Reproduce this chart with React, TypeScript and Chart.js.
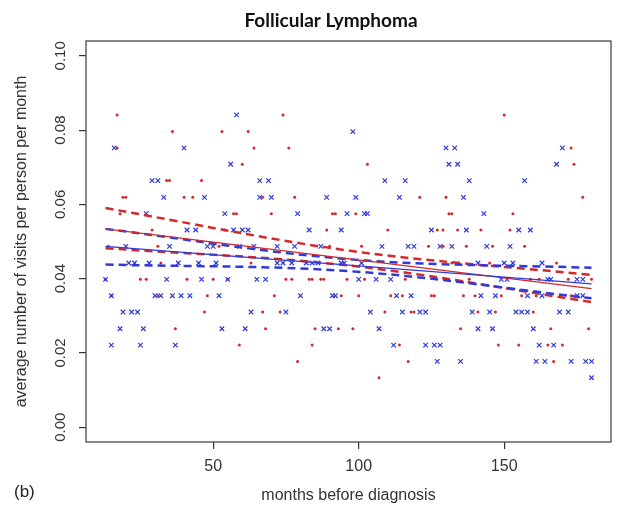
import { useEffect, useRef } from "react";
import { Chart, registerables } from "chart.js";

Chart.register(...registerables);

const titleText = "Follicular Lymphoma";
const panelTag = "(b)";
const xTitle = "months before diagnosis";
const yTitle = "average number of visits per person per month";
const xTicks = [50, 100, 150];
const yTicks = [0, 0.02, 0.04, 0.06, 0.08, 0.1];

// red dots (months, rate)
const redMonths = [13, 14, 15, 17, 17, 18, 19, 20, 25, 27, 29, 31, 31, 32, 34, 35, 36, 37, 40, 41, 43, 46, 47, 48, 50, 52, 53, 54, 55, 57, 58, 59, 60, 62, 63, 64, 67, 67, 68, 70, 71, 73, 74, 75, 76, 77, 78, 79, 83, 84, 84, 85, 87, 88, 89, 90, 91, 92, 93, 94, 96, 98, 99, 100, 101, 102, 103, 107, 109, 110, 111, 114, 115, 116, 117, 118, 119, 121, 124, 125, 126, 127, 129, 129, 130, 131, 132, 132, 134, 135, 136, 137, 138, 140, 141, 142, 145, 146, 147, 148, 149, 150, 152, 153, 155, 156, 157, 159, 160, 161, 162, 165, 166, 167, 168, 170, 172, 173, 173, 174, 177, 179, 180];
const redRates = [0.0398, 0.0487, 0.0354, 0.0841, 0.0752, 0.0575, 0.0619, 0.0619, 0.0398, 0.0398, 0.0531, 0.0487, 0.0354, 0.0442, 0.0664, 0.0664, 0.0796, 0.0265, 0.0619, 0.0398, 0.0619, 0.0664, 0.031, 0.0354, 0.0398, 0.0487, 0.0796, 0.0531, 0.0398, 0.0575, 0.0575, 0.0221, 0.0708, 0.0796, 0.0442, 0.0752, 0.0619, 0.031, 0.0265, 0.0575, 0.0354, 0.031, 0.0841, 0.0398, 0.0752, 0.0398, 0.0619, 0.0177, 0.0398, 0.0398, 0.0221, 0.0265, 0.0398, 0.0398, 0.0531, 0.0487, 0.0575, 0.0575, 0.0265, 0.0354, 0.0398, 0.0265, 0.0575, 0.0354, 0.0487, 0.0398, 0.0708, 0.0133, 0.031, 0.0531, 0.0354, 0.0221, 0.0354, 0.0398, 0.0177, 0.031, 0.031, 0.0619, 0.0487, 0.0354, 0.0354, 0.0531, 0.0487, 0.0531, 0.0619, 0.0575, 0.0575, 0.0442, 0.0531, 0.0265, 0.0354, 0.0487, 0.0398, 0.0354, 0.031, 0.0531, 0.0442, 0.0487, 0.031, 0.0221, 0.0354, 0.0841, 0.0531, 0.0575, 0.0221, 0.0354, 0.0487, 0.0398, 0.031, 0.0354, 0.0398, 0.0221, 0.0265, 0.0177, 0.0442, 0.0221, 0.0398, 0.0752, 0.0354, 0.0708, 0.0619, 0.0265, 0.0398];

// blue crosses (months, rate)
const blueMonths = [13, 15, 15, 16, 18, 19, 20, 21, 22, 23, 24, 25, 26, 27, 28, 29, 30, 31, 32, 33, 34, 35, 36, 37, 38, 39, 40, 41, 42, 44, 45, 46, 47, 48, 50, 51, 52, 53, 54, 55, 56, 57, 58, 59, 60, 61, 62, 63, 64, 65, 66, 66, 68, 69, 70, 72, 72, 74, 75, 77, 78, 79, 80, 82, 83, 84, 86, 87, 88, 89, 90, 91, 92, 94, 94, 95, 96, 98, 99, 100, 101, 102, 103, 104, 106, 107, 108, 109, 111, 112, 113, 114, 115, 116, 117, 118, 119, 121, 123, 123, 125, 126, 127, 128, 128, 130, 131, 132, 133, 134, 135, 136, 137, 138, 139, 141, 141, 142, 143, 144, 145, 146, 147, 149, 150, 151, 152, 153, 154, 155, 156, 157, 158, 158, 159, 160, 161, 162, 163, 163, 164, 165, 166, 167, 168, 169, 170, 172, 173, 175, 175, 177, 177, 178, 180, 180];
const blueRates = [0.0398, 0.0354, 0.0221, 0.0752, 0.0265, 0.031, 0.0487, 0.0442, 0.031, 0.0442, 0.031, 0.0221, 0.0265, 0.0575, 0.0442, 0.0664, 0.0354, 0.0664, 0.0354, 0.0619, 0.0398, 0.0487, 0.0354, 0.0221, 0.0442, 0.0354, 0.0752, 0.0531, 0.0354, 0.0531, 0.0442, 0.0398, 0.0619, 0.0487, 0.0487, 0.0442, 0.0354, 0.0265, 0.0575, 0.0398, 0.0708, 0.0531, 0.0841, 0.0487, 0.0531, 0.0265, 0.0531, 0.031, 0.0487, 0.0398, 0.0664, 0.0619, 0.0398, 0.0664, 0.0619, 0.0487, 0.0442, 0.0442, 0.031, 0.0442, 0.0487, 0.0575, 0.0354, 0.0442, 0.0531, 0.0442, 0.0442, 0.0487, 0.0265, 0.0619, 0.0265, 0.0354, 0.0354, 0.0531, 0.0442, 0.0442, 0.0575, 0.0796, 0.0619, 0.0398, 0.0442, 0.0575, 0.0575, 0.031, 0.0398, 0.0265, 0.0487, 0.0664, 0.0398, 0.0221, 0.0354, 0.0619, 0.031, 0.0664, 0.0487, 0.0354, 0.0487, 0.031, 0.031, 0.0221, 0.0531, 0.0221, 0.0177, 0.0487, 0.0221, 0.0752, 0.0708, 0.0487, 0.0752, 0.0708, 0.0177, 0.0619, 0.0531, 0.0664, 0.031, 0.0442, 0.0265, 0.0354, 0.0575, 0.0487, 0.031, 0.0265, 0.0354, 0.0398, 0.0442, 0.0398, 0.0487, 0.0442, 0.031, 0.0531, 0.031, 0.0664, 0.0354, 0.031, 0.0531, 0.0265, 0.0177, 0.0221, 0.0442, 0.0354, 0.0177, 0.0398, 0.0398, 0.0221, 0.0708, 0.031, 0.0752, 0.031, 0.0177, 0.0398, 0.0354, 0.0398, 0.0354, 0.0177, 0.0177, 0.0133];

// regression fits and confidence bands
const fitMonths = [13, 180];
const redFit = [0.0534, 0.0373];
const blueFit = [0.0487, 0.0386];
const bandMonths = [13, 97, 180];
const redUpper = [0.059, 0.0475, 0.041];
const redLower = [0.0482, 0.0435, 0.0337];
const blueUpper = [0.0534, 0.0452, 0.0429];
const blueLower = [0.0438, 0.042, 0.0347];

const RED = "#d22a2a";
const BLUE = "#2f3bd8";
const SANS = '"Liberation Sans", Arial, sans-serif';

function pts(xs: number[], ys: number[]) {
  return xs.map((x, i) => ({ x, y: ys[i] }));
}

export default function App() {
  const ref = useRef<HTMLCanvasElement>(null);

  useEffect(() => {
    if (!ref.current) return;

    const decor = {
      id: "decor",
      afterDraw(chart: any) {
        const { ctx, chartArea: a, scales } = chart;
        ctx.save();
        ctx.strokeStyle = "#4a4a4a";
        ctx.lineWidth = 1.3;
        ctx.strokeRect(a.left, a.top, a.right - a.left, a.bottom - a.top);

        const ys = scales.y;
        ctx.fillStyle = "#333";
        ctx.font = `15px ${SANS}`;
        ctx.textAlign = "center";
        ctx.textBaseline = "middle";
        ys.ticks.forEach((t: any) => {
          const py = ys.getPixelForValue(t.value);
          ctx.save();
          ctx.translate(a.left - 25, py);
          ctx.rotate(-Math.PI / 2);
          ctx.fillText(Number(t.value).toFixed(2), 0, 0);
          ctx.restore();
        });

        ctx.fillStyle = "#111";
        ctx.font = `bold 19px Lato, "Open Sans", sans-serif`;
        ctx.textAlign = "center";
        ctx.fillText(titleText, 331, 21);

        ctx.fillStyle = "#222";
        ctx.font = `17px ${SANS}`;
        ctx.textAlign = "left";
        ctx.fillText(panelTag, 14, 492);
        ctx.restore();
      },
    };

    const lineDs = (label: string, data: any[], color: string, dashed: boolean) => ({
      label,
      data,
      showLine: true,
      borderColor: color,
      backgroundColor: color,
      borderWidth: dashed ? 2.5 : 1.3,
      borderDash: dashed ? [8, 5] : [],
      pointRadius: 0,
      tension: dashed ? 0.35 : 0,
      fill: false,
    });

    const chart = new Chart(ref.current, {
      type: "scatter",
      data: {
        datasets: [
          lineDs("blue fit", pts(fitMonths, blueFit), BLUE, false),
          lineDs("red fit", pts(fitMonths, redFit), RED, false),
          lineDs("blue upper", pts(bandMonths, blueUpper), BLUE, true),
          lineDs("blue lower", pts(bandMonths, blueLower), BLUE, true),
          lineDs("red upper", pts(bandMonths, redUpper), RED, true),
          lineDs("red lower", pts(bandMonths, redLower), RED, true),
          {
            label: "blue",
            data: pts(blueMonths, blueRates),
            pointStyle: "crossRot",
            pointRadius: 3.2,
            borderColor: BLUE,
            backgroundColor: BLUE,
            borderWidth: 1.2,
            showLine: false,
          },
          {
            label: "red",
            data: pts(redMonths, redRates),
            pointStyle: "circle",
            pointRadius: 1.5,
            borderWidth: 0,
            backgroundColor: RED,
            borderColor: RED,
            showLine: false,
          },
        ] as any,
      },
      options: {
        animation: false,
        responsive: true,
        maintainAspectRatio: false,
        layout: { padding: { top: 41, right: 6, left: 0, bottom: 0 } },
        plugins: {
          legend: { display: false },
          tooltip: { enabled: false },
          title: { display: false },
        },
        scales: {
          x: {
            type: "linear",
            min: 6.3,
            max: 186.7,
            afterBuildTicks: (s: any) => {
              s.ticks = xTicks.map((v) => ({ value: v }));
            },
            afterFit: (s: any) => {
              s.height = 67;
            },
            grid: {
              display: true,
              drawOnChartArea: false,
              drawTicks: true,
              tickLength: 7,
              color: "#333",
              lineWidth: 1.2,
            },
            border: { display: false },
            ticks: {
              font: { family: SANS, size: 16 },
              color: "#333",
              padding: 8,
              maxRotation: 0,
              callback: (v: any) => String(v),
            },
            title: {
              display: true,
              text: xTitle,
              font: { family: SANS, size: 16 },
              color: "#333",
              padding: { top: 0, bottom: 4 },
            },
          },
          y: {
            type: "linear",
            min: -0.004,
            max: 0.104,
            afterBuildTicks: (s: any) => {
              s.ticks = yTicks.map((v) => ({ value: v }));
            },
            afterFit: (s: any) => {
              s.width = 86;
            },
            grid: {
              display: true,
              drawOnChartArea: false,
              drawTicks: true,
              tickLength: 7,
              color: "#333",
              lineWidth: 1.2,
            },
            border: { display: false },
            ticks: { display: false },
            title: {
              display: true,
              text: yTitle,
              font: { family: SANS, size: 16 },
              color: "#333",
              padding: { top: 12, bottom: 0 },
            },
          },
        },
      } as any,
      plugins: [decor],
    });

    return () => chart.destroy();
  }, []);

  return (
    <div style={{ position: "fixed", left: 0, top: 0, width: 617, height: 509, background: "#fff" }}>
      <canvas ref={ref} />
    </div>
  );
}
